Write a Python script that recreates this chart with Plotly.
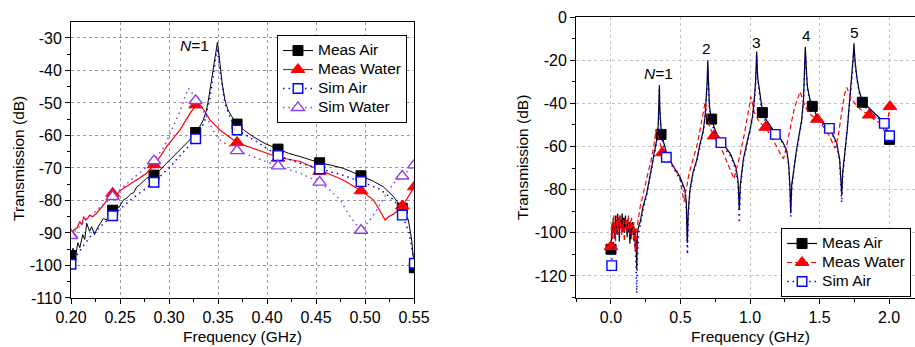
import plotly.graph_objects as go

FONT = "Liberation Sans, Arial, sans-serif"

# ---------------- Left panel (0.20-0.55 GHz) ----------------
left_air_f = [0.200, 0.202, 0.205, 0.207, 0.209, 0.212, 0.214, 0.216, 0.219, 0.221, 0.224, 0.226,
              0.230, 0.233, 0.236, 0.2425, 0.246, 0.249, 0.253, 0.257, 0.261, 0.264, 0.267, 0.270,
              0.274, 0.277, 0.2847, 0.288, 0.291, 0.296, 0.301, 0.306, 0.311, 0.316, 0.321, 0.3272,
              0.331, 0.335, 0.338, 0.3402, 0.3425, 0.3453, 0.3475, 0.3494, 0.351, 0.352, 0.354,
              0.357, 0.360, 0.364, 0.3694, 0.377, 0.386, 0.398, 0.4112, 0.422, 0.4337, 0.444,
              0.4537, 0.466, 0.4777, 0.4959, 0.508, 0.5187, 0.529, 0.538, 0.5442, 0.5476, 0.5503]
left_air_db = [-97.3, -94.7, -96.5, -93.0, -94.5, -90.5, -92.0, -87.0, -89.5, -88.0, -90.5, -89.0,
               -87.0, -85.5, -86.0, -83.0, -81.5, -82.2, -80.0, -79.2, -78.0, -77.6, -75.8, -75.2,
               -74.0, -73.2, -72.2, -71.4, -70.6, -69.0, -67.5, -66.0, -64.5, -63.0, -61.4, -59.1,
               -57.5, -55.2, -52.5, -49.1, -44.5, -38.8, -34.0, -31.3, -35.0, -38.8, -43.5,
               -49.1, -52.0, -54.2, -56.5, -58.5, -60.4, -62.5, -64.2, -65.5, -66.5, -67.5,
               -68.4, -69.2, -70.1, -72.4, -74.0, -75.8, -78.8, -82.4, -86.0, -92.2, -100.7]

left_water_f = [0.200, 0.203, 0.206, 0.209, 0.211, 0.213, 0.215, 0.217, 0.219, 0.222, 0.226, 0.230,
                0.234, 0.238, 0.2425, 0.246, 0.250, 0.255, 0.2636, 0.270, 0.2772, 0.2847, 0.291,
                0.2976, 0.304, 0.3112, 0.3214, 0.3272, 0.3333, 0.3418, 0.352, 0.3694, 0.386,
                0.4112, 0.4337, 0.4537, 0.466, 0.4777, 0.4959, 0.5085, 0.513, 0.5187, 0.5204,
                0.524, 0.529, 0.534, 0.538, 0.5442, 0.5503]
left_water_db = [-90.6, -89.0, -88.5, -86.5, -87.5, -85.0, -86.0, -85.5, -84.5, -85.0, -84.0, -82.5,
                 -81.0, -79.5, -77.8, -78.5, -77.0, -76.0, -74.2, -73.0, -71.6, -69.0, -66.5,
                 -63.4, -61.0, -58.3, -53.2, -50.8, -51.1, -55.2, -58.3, -62.2, -64.0,
                 -66.7, -68.0, -70.6, -72.0, -73.7, -77.0, -79.8, -82.0, -85.0, -86.0,
                 -85.0, -84.2, -82.9, -81.7, -78.8, -75.8]

left_simair_f = [0.200, 0.210, 0.220, 0.230, 0.2425, 0.260, 0.2847, 0.300, 0.315, 0.3272, 0.336,
                 0.342, 0.346, 0.349, 0.352, 0.357, 0.363, 0.3694, 0.390, 0.4112, 0.433, 0.4537,
                 0.475, 0.4959, 0.515, 0.530, 0.538, 0.545, 0.5503]
left_simair_db = [-99.6, -95.0, -91.0, -88.0, -84.7, -80.0, -74.4, -70.0, -65.0, -61.0, -56.0,
                  -48.0, -40.0, -33.0, -40.0, -50.0, -55.0, -58.3, -62.0, -66.2, -68.5, -70.3,
                  -72.0, -74.2, -76.5, -80.0, -84.5, -90.0, -99.3]

left_simwater_f = [0.200, 0.215, 0.230, 0.2425, 0.260, 0.2847, 0.295, 0.305, 0.312, 0.317, 0.3197,
                   0.3235, 0.3272, 0.333, 0.3383, 0.345, 0.352, 0.3694, 0.390, 0.4112, 0.4337,
                   0.4537, 0.465, 0.4746, 0.4848, 0.4959, 0.505, 0.5119, 0.5221, 0.529, 0.538, 0.5503]
left_simwater_db = [-90.8, -86.0, -82.0, -78.8, -74.0, -67.8, -63.5, -57.0, -52.0, -47.5, -45.5,
                    -47.0, -49.3, -51.5, -54.2, -58.5, -61.4, -64.7, -67.0, -69.4, -71.6,
                    -74.4, -77.0, -79.8, -85.0, -89.2, -86.0, -82.9, -77.8, -74.7, -72.5, -69.1]

left_mk_f = [0.200, 0.2425, 0.2847, 0.3272, 0.3694, 0.4112, 0.4537, 0.4959, 0.538, 0.5503]
left_mk_air = [-97.0, -83.0, -72.2, -59.1, -56.5, -64.2, -68.4, -72.4, -82.4, -100.7]
left_mk_water = [-90.6, -77.8, -69.0, -50.6, -62.2, -67.0, -71.0, -77.0, -81.7, -75.8]
left_mk_simair = [-99.6, -84.7, -74.4, -61.0, -58.3, -66.2, -70.3, -74.2, -84.5, -99.3]
left_mk_simwater = [-90.8, -78.8, -67.8, -49.3, -64.7, -69.4, -74.4, -89.2, -72.5, -69.1]

left_xtick_vals = [0.20, 0.25, 0.30, 0.35, 0.40, 0.45, 0.50, 0.55]
left_xtick_text = ["0.20", "0.25", "0.30", "0.35", "0.40", "0.45", "0.50", "0.55"]
left_ytick_vals = [-110, -100, -90, -80, -70, -60, -50, -40, -30]
left_ytick_text = ["-110", "-100", "-90", "-80", "-70", "-60", "-50", "-40", "-30"]

# ---------------- Right panel (0-2 GHz) ----------------
right_air_f = [0.000, 0.004, 0.008, 0.012, 0.016, 0.020, 0.024, 0.028, 0.032, 0.036, 0.040, 0.044,
               0.048, 0.052, 0.056, 0.060, 0.064, 0.068, 0.072, 0.076, 0.080, 0.084, 0.088, 0.092,
               0.096, 0.100, 0.104, 0.108, 0.112, 0.116, 0.120, 0.124, 0.128, 0.132, 0.136, 0.140,
               0.144, 0.148, 0.152, 0.156, 0.160, 0.164, 0.168, 0.172, 0.176, 0.180, 0.185, 0.190,
               0.196, 0.203,
               0.210, 0.230, 0.257, 0.280, 0.305, 0.322, 0.333, 0.340, 0.345, 0.348, 0.351, 0.355,
               0.360, 0.370, 0.385, 0.400, 0.425, 0.448, 0.470, 0.496, 0.515, 0.532, 0.542, 0.549,
               0.556, 0.568, 0.590, 0.617, 0.640, 0.664, 0.677, 0.686, 0.692, 0.696, 0.700, 0.707,
               0.715, 0.724, 0.750, 0.784, 0.810, 0.832, 0.860, 0.880, 0.900, 0.914, 0.923, 0.930,
               0.952, 0.975, 1.000, 1.018, 1.030, 1.040, 1.048, 1.055, 1.072, 1.091, 1.120, 1.168,
               1.210, 1.240, 1.265, 1.278, 1.287, 1.293, 1.300, 1.318, 1.336, 1.355, 1.372, 1.385,
               1.393, 1.398, 1.405, 1.413, 1.430, 1.448, 1.475, 1.504, 1.540, 1.576, 1.600, 1.624,
               1.645, 1.654, 1.660, 1.667, 1.683, 1.700, 1.715, 1.731, 1.742, 1.748, 1.755, 1.768,
               1.785, 1.808, 1.840, 1.875, 1.910, 1.947, 1.975, 1.990, 2.002]
right_air_db = [-108, -104, -96, -102, -93, -100, -95, -103, -92, -98, -94, -101,
                -91, -97, -93, -104, -92, -96, -94, -99, -91, -95, -97, -93,
                -100, -95, -92, -98, -96, -102, -94, -97, -100, -95, -105, -98,
                -103, -96, -99, -95, -101, -97, -104, -99, -106, -102, -117, -100,
                -97, -96,
                -95, -88, -81.7, -74, -66.3, -60, -55.5, -50, -42, -31.5, -42, -48,
                -52, -56, -60, -63, -66.5, -69.4, -71.5, -74, -77, -80, -86, -104.7,
                -90, -80, -72, -66.3, -59, -52.4, -46, -38, -30, -20, -30, -40,
                -44.5, -47.3, -52.5, -57.8, -59.5, -61, -63.5, -66.5, -70, -76, -89.4, -78,
                -66, -59, -52.4, -46, -39, -30, -16, -28, -37, -44.3, -48, -52.4,
                -55.5, -58.5, -62, -68, -78, -91, -78, -68, -61, -54, -47.7, -38,
                -26, -13.8, -24, -32.3, -38, -41.2, -45, -47.7, -50.3, -52.4, -55, -58.5,
                -66, -74, -82.5, -72, -63.2, -52, -40, -29.2, -19, -12.2, -20, -27.6,
                -34, -39.2, -41.2, -43.1, -45.5, -47.7, -50.5, -53, -56.5]

right_water_f = [0.000, 0.004, 0.008, 0.012, 0.016, 0.020, 0.024, 0.028, 0.032, 0.036, 0.040, 0.044,
                 0.048, 0.052, 0.056, 0.060, 0.064, 0.068, 0.072, 0.076, 0.080, 0.084, 0.088, 0.092,
                 0.096, 0.100, 0.104, 0.108, 0.112, 0.116, 0.120, 0.124, 0.128, 0.132, 0.136, 0.140,
                 0.144, 0.148, 0.152, 0.156, 0.160, 0.164, 0.168, 0.172, 0.176, 0.180, 0.185, 0.190,
                 0.195, 0.200,
                 0.210, 0.230, 0.260, 0.290, 0.310, 0.324, 0.333, 0.345, 0.369, 0.400, 0.440, 0.473,
                 0.500, 0.515, 0.525, 0.535, 0.560, 0.590, 0.617, 0.640, 0.660, 0.676, 0.690, 0.710,
                 0.741, 0.780, 0.808, 0.840, 0.868, 0.885, 0.900, 0.928, 0.960, 0.988, 1.007, 1.030,
                 1.070, 1.113, 1.150, 1.192, 1.228, 1.242, 1.262, 1.288, 1.320, 1.360, 1.400, 1.440,
                 1.484, 1.530, 1.570, 1.612, 1.635, 1.660, 1.680, 1.696, 1.730, 1.780, 1.820, 1.858,
                 1.900, 1.947, 1.971, 1.990, 2.007]
right_water_db = [-106, -100, -95, -103, -97, -92, -100, -95, -104, -96, -92, -99,
                  -94, -101, -93, -97, -92, -98, -95, -101, -96, -100, -94, -99,
                  -104, -97, -93, -98, -94, -100, -95, -92, -99, -96, -101, -94,
                  -98, -93, -100, -96, -103, -95, -99, -108, -98, -109, -99, -96,
                  -93, -92,
                  -88, -82, -74, -66, -59, -52, -54, -57.5, -62, -65.5, -68.5, -71,
                  -76, -81, -85.6, -82, -73, -66, -60, -52.4, -45, -40, -45, -51,
                  -55.1, -59.5, -63, -68, -72.5, -75, -71, -64, -54, -44, -36.9, -44,
                  -49, -51.1, -55, -60, -64.7, -65.5, -60, -52.4, -42, -34.6, -42, -45.5,
                  -47.4, -51, -55, -60.8, -55, -44, -36, -32.6, -38, -42, -44, -45.4,
                  -48, -49.3, -53.9, -48, -41.5]

right_simair_f = [0.005, 0.010, 0.020, 0.030, 0.045, 0.060, 0.080, 0.100, 0.120, 0.140, 0.160, 0.172,
                  0.180, 0.185, 0.190, 0.200, 0.215, 0.235, 0.257, 0.280, 0.305, 0.322, 0.333, 0.340,
                  0.345, 0.348, 0.351, 0.355, 0.360, 0.370, 0.385, 0.398, 0.425, 0.448, 0.470, 0.496,
                  0.515, 0.532, 0.542, 0.550, 0.556, 0.568, 0.590, 0.617, 0.640, 0.664, 0.677, 0.686,
                  0.692, 0.696, 0.700, 0.707, 0.715, 0.724, 0.750, 0.791, 0.810, 0.832, 0.860, 0.880,
                  0.900, 0.914, 0.923, 0.930, 0.952, 0.975, 1.000, 1.018, 1.030, 1.040, 1.048, 1.055,
                  1.072, 1.091, 1.120, 1.182, 1.210, 1.240, 1.265, 1.278, 1.287, 1.293, 1.300, 1.318,
                  1.336, 1.355, 1.372, 1.385, 1.393, 1.398, 1.405, 1.413, 1.430, 1.448, 1.475, 1.504,
                  1.540, 1.571, 1.600, 1.624, 1.645, 1.654, 1.660, 1.667, 1.683, 1.700, 1.715, 1.731,
                  1.742, 1.748, 1.755, 1.768, 1.785, 1.808, 1.840, 1.875, 1.910, 1.966, 1.985, 2.004]
right_simair_db = [-115, -109, -104, -101, -99, -97, -98, -96, -98, -100, -102, -106,
                   -114, -128, -112, -100, -94, -88, -82.5, -75, -67, -61, -56.5, -51,
                   -43, -33, -43, -49, -53, -57.5, -61.5, -65, -67.5, -70, -72.5, -75,
                   -78, -82, -89, -110, -93, -81, -73, -67, -60, -53, -47, -39,
                   -31, -22, -31, -41, -46, -49, -54, -58.2, -60, -62, -64.5, -67.5,
                   -71.5, -78, -95.5, -80, -67, -60, -53, -47, -40, -31, -18, -29,
                   -38, -45.5, -49.5, -54.4, -56, -59, -63, -69, -80, -92.5, -80, -69,
                   -62, -55, -48.5, -39, -27, -16, -25, -33.5, -39, -42.5, -46, -48.5,
                   -50.5, -51.6, -55.5, -59.5, -67, -76, -86, -74, -64, -53, -41, -30,
                   -20, -14, -21, -28.5, -35, -40, -42.5, -44.5, -46.5, -49.3, -52, -55]

right_mk_air_f = [0.000, 0.360, 0.724, 1.089, 1.448, 1.808, 2.004]
right_mk_air_db = [-107.6, -54.4, -47.3, -44.3, -41.4, -39.5, -56.7]
right_mk_water_f = [0.000, 0.369, 0.741, 1.113, 1.484, 1.858, 2.007]
right_mk_water_db = [-106.4, -62.9, -55.1, -51.1, -47.4, -45.4, -41.5]
right_mk_simair_f = [0.005, 0.398, 0.791, 1.182, 1.571, 1.966, 2.004]
right_mk_simair_db = [-115.2, -65.0, -58.2, -54.4, -51.6, -49.3, -55.0]

right_xtick_vals = [0.0, 0.5, 1.0, 1.5, 2.0]
right_xtick_text = ["0.0", "0.5", "1.0", "1.5", "2.0"]
right_ytick_vals = [-120, -100, -80, -60, -40, -20, 0]
right_ytick_text = ["-120", "-100", "-80", "-60", "-40", "-20", "0"]

legend_names_left = ["Meas Air", "Meas Water", "Sim Air", "Sim Water"]
legend_names_right = ["Meas Air", "Meas Water", "Sim Air"]

peak_labels = ["<i>N</i>=1", "2", "3", "4", "5"]
peak_f = [0.345, 0.688, 1.048, 1.408, 1.750]
peak_db = [-26.0, -14.8, -11.9, -8.8, -7.3]

BLACK = "#000000"
RED = "#ff0000"
BLUE = "#0000ff"
PURPLE = "#8c3cf0"
TXT = 15.5

fig = go.Figure()


def add_series(xl, yl, xm, ym, name, color, dash, lw, symbol, fill, msize, mlw, xa, ya, leg):
    line = dict(color=color, dash=dash, width=lw)
    marker = dict(symbol=symbol, size=msize, color=fill, line=dict(color=color, width=mlw))
    fig.add_trace(go.Scatter(x=xl, y=yl, mode="lines", line=line, xaxis=xa, yaxis=ya,
                             showlegend=False, hoverinfo="skip"))
    fig.add_trace(go.Scatter(x=xm, y=ym, mode="markers", marker=marker, xaxis=xa, yaxis=ya,
                             showlegend=False, hoverinfo="skip"))
    label = '<span style="font-size:%spx">%s</span>' % (TXT, name)
    fig.add_trace(go.Scatter(x=[None], y=[None], mode="lines+markers", name=label, line=line,
                             marker=marker, xaxis=xa, yaxis=ya, legend=leg))


# left panel
add_series(left_air_f, left_air_db, left_mk_f, left_mk_air, legend_names_left[0],
           BLACK, "solid", 1, "square", BLACK, 10, 1, "x", "y", "legend")
add_series(left_water_f, left_water_db, left_mk_f, left_mk_water, legend_names_left[1],
           RED, "solid", 1.2, "triangle-up", RED, 12, 1, "x", "y", "legend")
add_series(left_simair_f, left_simair_db, left_mk_f, left_mk_simair, legend_names_left[2],
           BLUE, "1.5px,4px", 1.5, "square", "white", 9.5, 1.4, "x", "y", "legend")
add_series(left_simwater_f, left_simwater_db, left_mk_f, left_mk_simwater, legend_names_left[3],
           PURPLE, "1.5px,4px", 1.5, "triangle-up", "white", 11.5, 1.4, "x", "y", "legend")

# right panel
add_series(right_air_f, right_air_db, right_mk_air_f, right_mk_air_db, legend_names_right[0],
           BLACK, "solid", 1.2, "square", BLACK, 10, 1, "x2", "y2", "legend2")
add_series(right_water_f, right_water_db, right_mk_water_f, right_mk_water_db, legend_names_right[1],
           RED, "5px,3px", 1.2, "triangle-up", RED, 12, 1, "x2", "y2", "legend2")
add_series(right_simair_f, right_simair_db, right_mk_simair_f, right_mk_simair_db, legend_names_right[2],
           BLUE, "1.5px,4px", 1.5, "square", "white", 9.5, 1.4, "x2", "y2", "legend2")

tickfont = dict(family=FONT, size=16, color="black")
common = dict(showline=True, linecolor="black", linewidth=1, zeroline=False, automargin=False,
              tickfont=tickfont, tickcolor="black", showgrid=True, griddash="dot", gridwidth=1,
              ticks="outside", ticklen=5, tickwidth=1, tickmode="array")
overlay = dict(ticks="inside", ticklen=5, tickwidth=1, tickcolor="black", showticklabels=False,
               showgrid=False, showline=False, zeroline=False, automargin=False)

fig.update_layout(
    template="none",
    width=915, height=347,
    margin=dict(l=0, r=0, t=0, b=0, pad=0),
    paper_bgcolor="white", plot_bgcolor="white",
    font=dict(family=FONT, size=TXT, color="black"),
    xaxis=dict(domain=[0.0776, 0.4525], range=[0.2, 0.55], anchor="y",
               tickvals=left_xtick_vals, ticktext=left_xtick_text, mirror=True, gridcolor="#9a9a9a",
               minor=dict(ticks="outside", ticklen=3, tickmode="linear", dtick=0.025, tick0=0.2,
                          tickcolor="black", showgrid=False),
               **common),
    yaxis=dict(domain=[0.1412, 0.9366], range=[-110, -25.1], anchor="x",
               tickvals=left_ytick_vals, ticktext=left_ytick_text, mirror=True, gridcolor="#9a9a9a",
               minor=dict(ticks="outside", ticklen=3, tickmode="linear", dtick=5, tick0=-110,
                          tickcolor="black", showgrid=False),
               **common),
    xaxis3=dict(overlaying="x", side="top", anchor="y", range=[0.2, 0.55], tick0=0.2, dtick=0.05,
                minor=dict(ticks="inside", ticklen=3, dtick=0.025, tick0=0.2, tickcolor="black"),
                **overlay),
    yaxis3=dict(overlaying="y", side="right", anchor="x", range=[-110, -25.1], tick0=-110, dtick=10,
                minor=dict(ticks="inside", ticklen=3, dtick=5, tick0=-110, tickcolor="black"),
                **overlay),
    xaxis2=dict(domain=[0.6295, 1.0], range=[-0.2518, 2.187], anchor="y2",
                tickvals=right_xtick_vals, ticktext=right_xtick_text, mirror=True, gridcolor="#c4c4c4",
                minor=dict(ticks="outside", ticklen=3, tickmode="linear", dtick=0.25, tick0=0,
                           tickcolor="black", showgrid=False),
                **common),
    yaxis2=dict(domain=[0.1412, 0.951], range=[-130.2, 0], anchor="x2",
                tickvals=right_ytick_vals, ticktext=right_ytick_text, mirror=False, gridcolor="#c4c4c4",
                minor=dict(ticks="outside", ticklen=3, tickmode="linear", dtick=10, tick0=0,
                           tickcolor="black", showgrid=False),
                **common),
    legend=dict(x=0.3027, y=0.899, xanchor="left", yanchor="top", bgcolor="white",
                bordercolor="black", borderwidth=1, font=dict(family=FONT, size=12.3, color="black"),
                itemwidth=30, tracegroupgap=0),
    legend2=dict(x=0.8536, y=0.343, xanchor="left", yanchor="top", bgcolor="white",
                 bordercolor="black", borderwidth=1, font=dict(family=FONT, size=12.3, color="black"),
                 itemwidth=30, tracegroupgap=0),
    showlegend=True,
)

ann_font = dict(family=FONT, size=TXT, color="black")
annotations = [
    dict(text="Transmission (dB)", x=19 / 915, y=0.542, xref="paper", yref="paper",
         textangle=-90, showarrow=False, font=ann_font, xanchor="center", yanchor="middle"),
    dict(text="Frequency (GHz)", x=242 / 915, y=1 - 336 / 347, xref="paper", yref="paper",
         showarrow=False, font=ann_font, xanchor="center", yanchor="middle"),
    dict(text="Transmission (dB)", x=523 / 915, y=0.545, xref="paper", yref="paper",
         textangle=-90, showarrow=False, font=ann_font, xanchor="center", yanchor="middle"),
    dict(text="Frequency (GHz)", x=750 / 915, y=1 - 336 / 347, xref="paper", yref="paper",
         showarrow=False, font=ann_font, xanchor="center", yanchor="middle"),
    dict(text="<i>N</i>=1", x=0.3255, y=-32.2, xref="x", yref="y", showarrow=False, font=ann_font),
]
for t, px, py in zip(peak_labels, peak_f, peak_db):
    annotations.append(dict(text=t, x=px, y=py, xref="x2", yref="y2", showarrow=False, font=ann_font))
fig.update_layout(annotations=annotations)

fig.write_html("out.html")
